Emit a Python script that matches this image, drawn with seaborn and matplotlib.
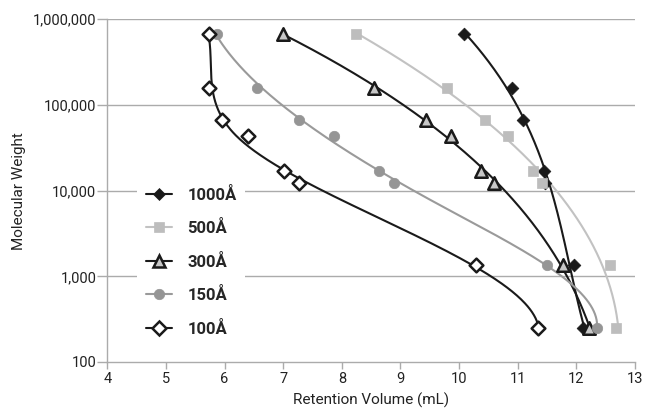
import numpy as np
import pandas as pd
import matplotlib
matplotlib.use("Agg")
import matplotlib.pyplot as plt
from matplotlib.lines import Line2D
from matplotlib.ticker import FuncFormatter, FixedLocator, NullLocator
import seaborn as sns

# ---- data ----
series_names = ["1000Å", "500Å", "300Å", "150Å", "100Å"]

vol_1000 = [10.08, 10.91, 11.09, 11.45, 11.46, 11.96, 12.11]
mw_1000 = [670000, 158000, 67000, 17000, 12400, 1350, 250]

vol_500 = [8.24, 9.79, 10.45, 10.84, 11.26, 11.41, 12.58, 12.67]
mw_500 = [670000, 158000, 67000, 44000, 17000, 12400, 1350, 250]

vol_300 = [7.00, 8.55, 9.43, 9.87, 10.38, 10.60, 11.77, 12.22]
mw_300 = [670000, 158000, 67000, 44000, 17000, 12400, 1350, 250]

vol_150 = [5.87, 6.55, 7.27, 7.87, 8.64, 8.89, 11.50, 12.35]
mw_150 = [670000, 158000, 67000, 44000, 17000, 12400, 1350, 250]

vol_100 = [5.73, 5.73, 5.95, 6.40, 7.01, 7.27, 10.29, 11.34]
mw_100 = [670000, 158000, 67000, 44000, 17000, 12400, 1350, 250]

y_ticks = [100, 1000, 10000, 100000, 1000000]
x_ticks = [4, 5, 6, 7, 8, 9, 10, 11, 12, 13]

vols = [vol_1000, vol_500, vol_300, vol_150, vol_100]
mws = [mw_1000, mw_500, mw_300, mw_150, mw_100]

# ---- styles ----
styles = {
    "1000Å": dict(marker="D", face="#1a1a1a", edge="#1a1a1a", ew=0.5, size=6.5, line="#1a1a1a", knot=None),
    "500Å": dict(marker="s", face="#bdbdbd", edge="#bdbdbd", ew=0.5, size=6.5, line="#c2c2c2", knot=None),
    "300Å": dict(marker="^", face="#c8c8c8", edge="#1a1a1a", ew=1.8, size=9.0, line="#1a1a1a", knot=None),
    "150Å": dict(marker="o", face="#959595", edge="#959595", ew=0.5, size=7.5, line="#9a9a9a", knot=3.85),
    "100Å": dict(marker="D", face="white", edge="#1a1a1a", ew=1.8, size=7.0, line="#1a1a1a", knot=4.65),
}


def design(lm, knot):
    cols = [np.ones_like(lm), lm, lm ** 2, lm ** 3]
    if knot is not None:
        cols.append(np.clip(knot - lm, 0, None) ** 3)
    return np.column_stack(cols)


sns.set_theme(style="white")
fam = ["Liberation Sans Narrow", "Roboto", "DejaVu Sans"]
plt.rcParams["font.family"] = fam

fig = plt.figure(figsize=(6.45, 4.13), dpi=100)
ax = fig.add_axes([0.1664, 0.1235, 0.9845 - 0.1664, 0.9533 - 0.1235])

grid_c = "#ababab"
for yv in y_ticks[1:]:
    ax.axhline(yv, color=grid_c, lw=1.0, zorder=0)

for name, v, m in zip(series_names, vols, mws):
    st = styles[name]
    v = np.asarray(v, float)
    lm = np.log10(np.asarray(m, float))
    coef, *_ = np.linalg.lstsq(design(lm, st["knot"]), v, rcond=None)
    lgrid = np.linspace(lm.max(), lm.min(), 300)
    fit = pd.DataFrame({"vol": design(lgrid, st["knot"]) @ coef, "mw": 10 ** lgrid})
    sns.lineplot(data=fit, x="vol", y="mw", sort=False, estimator=None,
                 color=st["line"], lw=1.5, ax=ax, zorder=2)
    pts = pd.DataFrame({"vol": v, "mw": m})
    sns.scatterplot(data=pts, x="vol", y="mw", marker=st["marker"], s=st["size"] ** 2,
                    color=st["face"], edgecolor=st["edge"], linewidth=st["ew"],
                    ax=ax, zorder=3)

ax.set_yscale("log")
ax.set_xlim(4, 13)
ax.set_ylim(100, 1000000)
ax.yaxis.set_major_locator(FixedLocator(y_ticks))
ax.yaxis.set_minor_locator(NullLocator())
ax.yaxis.set_major_formatter(FuncFormatter(lambda val, pos: f"{int(round(val)):,}"))
ax.set_xticks(x_ticks)

for s in ["top", "right"]:
    ax.spines[s].set_visible(False)
for s in ["left", "bottom"]:
    ax.spines[s].set_color(grid_c)
    ax.spines[s].set_linewidth(1.0)
ax.tick_params(axis="y", which="major", direction="out", length=7, width=1.0,
               color=grid_c, labelsize=10.5, labelcolor="#222222", pad=1, left=True)
ax.tick_params(axis="x", which="major", direction="out", length=5, width=1.0,
               color=grid_c, labelsize=10.5, labelcolor="#222222", pad=2, bottom=True)

ax.set_xlabel("Retention Volume (mL)", fontsize=11, color="#222222", labelpad=5)
ax.set_ylabel("Molecular Weight", fontsize=11, color="#222222", labelpad=5)

handles = []
for name in series_names:
    st = styles[name]
    handles.append(Line2D([0], [0], color=st["line"], lw=1.5, marker=st["marker"],
                          markersize=st["size"], markerfacecolor=st["face"],
                          markeredgecolor=st["edge"], markeredgewidth=st["ew"]))
leg = ax.legend(handles, series_names, loc="upper left", bbox_to_anchor=(0.041, 0.56),
                frameon=True, framealpha=1.0, edgecolor="white", facecolor="white",
                handlelength=1.6, handletextpad=0.9, labelspacing=1.05, borderpad=0.5,
                prop={"family": fam, "weight": "bold", "size": 12})
leg.get_frame().set_linewidth(0)
leg.set_zorder(5)

fig.savefig("out.png", dpi=100)
